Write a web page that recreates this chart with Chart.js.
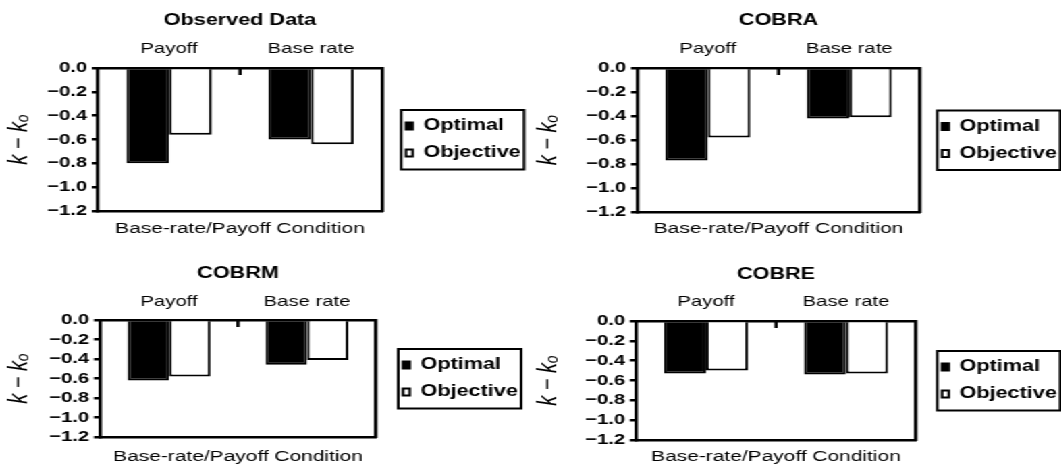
<!DOCTYPE html>
<html>
<head>
<meta charset="utf-8">
<title>k − kₒ by base-rate/payoff condition</title>
<script src="https://cdn.jsdelivr.net/npm/chart.js@4.4.1/dist/chart.umd.min.js"></script>
<style>
  html, body { margin: 0; padding: 0; background: #fff; }
  /* the four panels are laid out on a 786px sheet that is widened to 1061px */
  #sheet { position: relative; width: 786px; height: 468px; transform: scaleX(1.35); transform-origin: 0 0; }
  #sheet canvas { position: absolute; }
</style>
</head>
<body>
<div id="sheet">
  <canvas id="p1" width="392" height="244" style="left:0;top:0"></canvas>
  <canvas id="p2" width="394" height="244" style="left:392px;top:0"></canvas>
  <canvas id="p3" width="392" height="224" style="left:0;top:244px"></canvas>
  <canvas id="p4" width="394" height="224" style="left:392px;top:244px"></canvas>
</div>
<script>
// ---- data ----
const conditions = ['Payoff', 'Base rate'];
const seriesNames = ['Optimal', 'Objective'];
const panelTitles = ['Observed Data', 'COBRA', 'COBRM', 'COBRE'];

const observedOptimal  = [-0.80, -0.60];
const observedObjective = [-0.56, -0.64];
const cobraOptimal     = [-0.77, -0.42];
const cobraObjective   = [-0.58, -0.41];
const cobrmOptimal     = [-0.62, -0.46];
const cobrmObjective   = [-0.58, -0.41];
const cobreOptimal     = [-0.53, -0.54];
const cobreObjective   = [-0.50, -0.53];

const yMin = -1.2, yMax = 0, yStep = 0.2;
const xAxisTitle = 'Base-rate/Payoff Condition';
const yAxisTitle = 'k \u2212 k\u2092';

// ---- styling ----
const FONT = "'Liberation Sans', Arial, Helvetica, sans-serif";
const INK = '#000';
const LINE = 2.5;

// panel placement (sheet units)
const panels = [
  { id: 'p1', h: 244, title: panelTitles[0], optimal: observedOptimal, objective: observedObjective,
    plotLeft: 72.6, plotRight: 283, plotTop: 68, plotBottom: 211, titleY: 21, labelY: 48.5, bottomTitleY: 229, markerX: 300.7 },
  { id: 'p2', h: 244, title: panelTitles[1], optimal: cobraOptimal, objective: cobraObjective,
    plotLeft: 79.9, plotRight: 289.5, plotTop: 68, plotBottom: 212, titleY: 21, labelY: 49, bottomTitleY: 229, markerX: 305.8 },
  { id: 'p3', h: 224, title: panelTitles[2], optimal: cobrmOptimal, objective: cobrmObjective,
    plotLeft: 74.1, plotRight: 278.5, plotTop: 76, plotBottom: 193, titleY: 30, labelY: 57.5, bottomTitleY: 213, markerX: 298.5 },
  { id: 'p4', h: 224, title: panelTitles[3], optimal: cobreOptimal, objective: cobreObjective,
    plotLeft: 79.1, plotRight: 286.5, plotTop: 77, plotBottom: 196, titleY: 30.5, labelY: 57.5, bottomTitleY: 213, markerX: 305.8 }
];

// short inward tick between the two condition groups, and a frame round the legend
const panelExtras = {
  id: 'panelExtras',
  afterDraw(chart) {
    const ctx = chart.ctx;
    const xs = chart.scales.x;
    const top = chart.chartArea.top;
    ctx.save();
    ctx.strokeStyle = INK;
    ctx.lineWidth = LINE;
    ctx.beginPath();
    for (let i = 0; i < xs.ticks.length - 1; i++) {
      const px = (xs.getPixelForTick(i) + xs.getPixelForTick(i + 1)) / 2;
      ctx.moveTo(px, top);
      ctx.lineTo(px, top + 7);
    }
    ctx.stroke();
    const hb = chart.legend && chart.legend.legendHitBoxes;
    if (hb && hb.length) {
      const l = Math.min(...hb.map(b => b.left)) - 3.5;
      const r = Math.max(...hb.map(b => b.left + b.width)) + 2.5;
      const t = hb[0].top - 8;
      const last = hb[hb.length - 1];
      const b = last.top + last.height + 8.5;
      ctx.lineWidth = 2;
      ctx.strokeRect(l, t, r - l, b - t);
    }
    ctx.restore();
  }
};

function buildPanel(p) {
  const hx = 30;                                   // height of the condition-label strip
  const titleLH = 16 * 1.2;
  const titlePadTop = p.titleY - titleLH / 2;
  const titlePadBottom = (p.plotTop - hx) - titlePadTop - titleLH;
  const catLH = 15 * 1.2;
  const catPad = p.plotTop - p.labelY - catLH / 2;
  const xTitleLH = 15.5 * 1.2;
  const bottomH = p.h - p.plotBottom;
  const xTitlePad = p.h - p.bottomTitleY - xTitleLH / 2;
  const legendPad = 11;
  const spacer = p.markerX - legendPad - p.plotRight;

  const config = {
    type: 'bar',
    data: {
      labels: conditions,
      datasets: [
        { label: seriesNames[0], data: p.optimal, backgroundColor: INK, borderColor: INK, borderWidth: 2,
          categoryPercentage: 0.6, barPercentage: 1.0 },
        { label: seriesNames[1], data: p.objective, backgroundColor: '#fff', borderColor: INK, borderWidth: 2,
          categoryPercentage: 0.6, barPercentage: 1.0 }
      ]
    },
    options: {
      responsive: false,
      devicePixelRatio: 1,
      animation: false,
      events: [],
      layout: { autoPadding: false, padding: { left: 0, top: 0, bottom: 0, right: 0 } },
      plugins: {
        title: {
          display: true, text: p.title, color: INK, fullSize: false,
          font: { family: FONT, size: 16, weight: 'bold', lineHeight: 1.2 },
          padding: { top: titlePadTop, bottom: titlePadBottom }
        },
        legend: {
          display: true, position: 'right', align: 'center', fullSize: false, maxWidth: 200,
          labels: { boxWidth: 5, boxHeight: 7, padding: legendPad, color: INK,
                    font: { family: FONT, size: 16, weight: 'bold' } }
        },
        tooltip: { enabled: false }
      },
      scales: {
        x: {
          type: 'category', position: 'top', offset: true,
          grid: { display: false, drawTicks: false },
          border: { display: true, color: INK, width: LINE },
          ticks: { color: INK, padding: catPad, font: { family: FONT, size: 15, lineHeight: 1.2 } },
          afterFit: s => { s.height = hx; }
        },
        x2: {
          type: 'category', position: 'bottom', offset: true,
          grid: { display: false, drawTicks: false },
          border: { display: true, color: INK, width: LINE },
          ticks: { display: false },
          title: { display: true, text: xAxisTitle, color: INK, padding: { top: 0, bottom: xTitlePad },
                   font: { family: FONT, size: 15.5, lineHeight: 1.2 } },
          afterFit: s => { s.height = bottomH; }
        },
        y: {
          type: 'linear', position: 'left', min: yMin, max: yMax,
          grid: { display: true, drawOnChartArea: false, drawTicks: true, tickLength: 4.5, color: INK, lineWidth: LINE },
          border: { display: true, color: INK, width: LINE },
          ticks: {
            stepSize: yStep, autoSkip: false, color: INK, padding: 3.5,
            font: { family: FONT, size: 15, weight: 'bold', lineHeight: 1.2 },
            callback: v => (v < -1e-9 ? '\u2212' : '') + Math.abs(v).toFixed(1)
          },
          title: { display: true, text: yAxisTitle, color: INK, padding: { top: 2, bottom: 0 },
                   font: { family: FONT, size: 20, style: 'italic', lineHeight: 1.2 } },
          afterFit: s => { s.width = p.plotLeft; }
        },
        y2: {
          type: 'linear', position: 'right',
          grid: { display: false, drawTicks: false },
          border: { display: true, color: INK, width: LINE },
          ticks: { display: false },
          afterFit: s => { s.width = spacer; }
        }
      }
    },
    plugins: [panelExtras]
  };

  const chart = new Chart(document.getElementById(p.id), config);
  // pull the plot's right edge onto its place once the legend has been measured
  const shift = chart.chartArea.right - p.plotRight;
  config.options.layout.padding.right += shift;
  chart.update();
  return chart;
}

panels.forEach(buildPanel);
</script>
</body>
</html>
